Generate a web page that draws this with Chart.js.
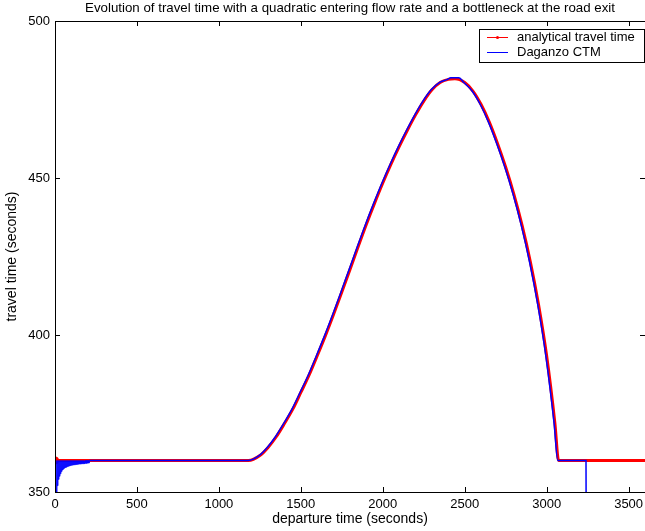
<!DOCTYPE html>
<html>
<head>
<meta charset="utf-8">
<title>Travel time evolution</title>
<script src="https://cdn.jsdelivr.net/npm/chart.js@4.4.1/dist/chart.umd.min.js"></script>
<style>
  html, body { margin: 0; padding: 0; background: #fff; overflow: hidden; }
  canvas { display: block; }
</style>
</head>
<body>
<canvas id="travelChart" width="652" height="531"></canvas>
<script>
// axis ticks
const xTickValues = [0, 500, 1000, 1500, 2000, 2500, 3000, 3500];
const yTickValues = [350, 400, 450, 500];

// analytical travel time (seconds) vs departure time (seconds)
const analyticalTime = [0, 1180, 1250, 1300, 1350, 1400, 1450, 1500, 1550, 1600, 1650, 1700, 1750, 1800, 1850, 1900, 1950, 2000, 2050, 2100, 2150, 2200, 2250, 2300, 2350, 2400, 2440, 2500, 2550, 2600, 2650, 2700, 2750, 2800, 2850, 2900, 2950, 3000, 3050, 3073, 3600];
const analyticalTravel = [360, 360, 361.6, 364.2, 367.6, 371.8, 376.3, 381.7, 387.2, 393.4, 399.8, 406.6, 413.7, 420.9, 428.2, 435.3, 442.0, 448.4, 454.4, 460.0, 465.2, 470.1, 474.5, 478.1, 480.4, 481.4, 481.6, 480.4, 477.7, 473.4, 467.8, 461.0, 453.4, 444.8, 434.9, 423.4, 409.8, 393.3, 372.0, 360, 360];

// Daganzo CTM: warm-up oscillation of the first cells
const ctmStartTime = [0, 3, 6, 9, 12, 15, 18, 21, 24, 27, 30, 33, 36, 39, 42, 45, 48, 51, 54, 57, 60, 63, 66, 69, 72, 75, 78, 81, 84, 87, 90, 93, 96, 99, 102, 105, 108, 111, 114, 117, 120, 123, 126, 129, 132, 135, 138, 141, 144, 147, 150, 153, 156, 159, 162, 165, 168, 171, 174, 177, 180, 183, 186, 189, 192, 195, 198, 201, 204, 207, 210];
const ctmStartTravel = [360, 340, 360, 349, 360, 352, 360, 354, 360, 355, 360, 355.8, 360, 356.5, 360, 357, 360, 357.3, 360, 357.6, 360, 357.8, 360, 357.9, 360, 358.1, 360, 358.2, 360, 358.3, 360, 358.4, 360, 358.5, 360, 358.55, 360, 358.6, 360, 358.65, 360, 358.7, 360, 358.75, 360, 358.8, 360, 358.85, 360, 358.9, 360, 358.9, 360, 358.95, 360, 359, 360, 359, 360, 359.05, 360, 359.1, 360, 359.1, 360, 359.15, 360, 359.2, 360, 359.2, 360];

// Daganzo CTM: rest of the simulation (ends with the exit drop)
const ctmTime = [210, 1175, 1245, 1295, 1345, 1395, 1445, 1495, 1545, 1595, 1645, 1695, 1745, 1795, 1845, 1895, 1945, 1995, 2045, 2095, 2145, 2195, 2245, 2295, 2345, 2395, 2415, 2465, 2495, 2545, 2595, 2645, 2695, 2745, 2795, 2845, 2895, 2945, 2995, 3045, 3068, 3240, 3241];
const ctmTravel = [360, 360, 361.6, 364.2, 367.6, 371.8, 376.3, 381.7, 387.2, 393.4, 399.8, 406.6, 413.7, 420.9, 428.2, 435.3, 442.0, 448.4, 454.4, 460.0, 465.2, 470.1, 474.5, 478.1, 480.4, 481.4, 481.9, 481.9, 480.4, 477.7, 473.4, 467.8, 461.0, 453.4, 444.8, 434.9, 423.4, 409.8, 393.3, 372.0, 360, 360, 340];

const titleText = 'Evolution of travel time with a quadratic entering flow rate and a bottleneck at the road exit';
const seriesNames = ['analytical travel time', 'Daganzo CTM'];
const seriesColors = ['#ff0000', '#0000ff'];

const FONT = '"Liberation Sans", Arial, Helvetica, sans-serif';

function toPoints(xs, ys) {
  return xs.map((x, i) => ({ x: x, y: ys[i] }));
}

// matlab style box: frame, inward ticks, title and boxed legend
const framePlugin = {
  id: 'frame',
  afterDraw(chart) {
    const ctx = chart.ctx;
    const a = chart.chartArea;
    const xs = chart.scales.x;
    const ys = chart.scales.y;
    const tick = 5;
    ctx.save();
    ctx.strokeStyle = '#000';
    ctx.lineWidth = 1;
    ctx.strokeRect(Math.round(a.left) + 0.5, Math.round(a.top) + 0.5, Math.round(a.right - a.left), Math.round(a.bottom - a.top));

    ctx.beginPath();
    xTickValues.forEach(v => {
      const px = Math.round(xs.getPixelForValue(v)) + 0.5;
      ctx.moveTo(px, a.bottom); ctx.lineTo(px, a.bottom - tick);
      ctx.moveTo(px, a.top); ctx.lineTo(px, a.top + tick);
    });
    yTickValues.forEach(v => {
      const py = Math.round(ys.getPixelForValue(v)) + 0.5;
      ctx.moveTo(a.left, py); ctx.lineTo(a.left + tick, py);
      ctx.moveTo(a.right, py); ctx.lineTo(a.right - tick, py);
    });
    ctx.stroke();

    // title
    ctx.fillStyle = '#000';
    ctx.font = '13.3px ' + FONT;
    ctx.textAlign = 'center';
    ctx.textBaseline = 'middle';
    ctx.fillText(titleText, (a.left + a.right) / 2, 8);

    // legend
    const lx = 479, ly = 29, lw = 165, lh = 33;
    ctx.fillStyle = '#fff';
    ctx.fillRect(lx, ly, lw, lh);
    ctx.strokeRect(lx + 0.5, ly + 0.5, lw, lh);
    ctx.font = '13px ' + FONT;
    ctx.textAlign = 'left';
    seriesNames.forEach((name, i) => {
      const rowY = ly + 8.5 + i * 15;
      ctx.strokeStyle = seriesColors[i];
      ctx.beginPath();
      ctx.moveTo(487, rowY); ctx.lineTo(508, rowY);
      ctx.stroke();
      if (i === 0) {
        ctx.fillStyle = seriesColors[i];
        ctx.beginPath();
        ctx.arc(497.5, rowY, 1.5, 0, Math.PI * 2);
        ctx.fill();
      }
      ctx.fillStyle = '#000';
      ctx.fillText(name, 517, rowY);
    });
    ctx.restore();
  }
};

new Chart(document.getElementById('travelChart'), {
  type: 'line',
  data: {
    datasets: [
      {
        label: seriesNames[1],
        data: toPoints(ctmStartTime, ctmStartTravel),
        borderColor: seriesColors[1],
        borderWidth: 1,
        tension: 0,
        pointRadius: 0,
        order: 1
      },
      {
        label: seriesNames[1],
        data: toPoints(ctmTime, ctmTravel),
        borderColor: seriesColors[1],
        borderWidth: 1.5,
        cubicInterpolationMode: 'monotone',
        pointRadius: 0,
        order: 1
      },
      {
        label: seriesNames[0],
        data: toPoints(analyticalTime, analyticalTravel),
        borderColor: seriesColors[0],
        backgroundColor: seriesColors[0],
        borderWidth: 3,
        cubicInterpolationMode: 'monotone',
        pointRadius: ctx => ctx.dataIndex === 0 ? 2.5 : 0,
        order: 2
      }
    ]
  },
  options: {
    responsive: false,
    animation: false,
    events: [],
    layout: { padding: { left: 0, top: 21, right: 2, bottom: 0 } },
    plugins: {
      legend: { display: false },
      title: { display: false },
      tooltip: { enabled: false }
    },
    scales: {
      x: {
        type: 'linear',
        min: 0,
        max: 3600,
        grid: { display: false, drawTicks: false },
        border: { display: false },
        afterBuildTicks: s => { s.ticks = xTickValues.map(v => ({ value: v })); },
        afterFit: s => { s.height = 39; },
        ticks: { color: '#000', padding: 5, maxRotation: 0, callback: v => String(v), font: { family: FONT, size: 13 } },
        title: {
          display: true,
          text: 'departure time (seconds)',
          color: '#000',
          font: { family: FONT, size: 14 },
          padding: { top: 0, bottom: 3 }
        }
      },
      y: {
        min: 350,
        max: 500,
        grid: { display: false, drawTicks: false },
        border: { display: false },
        afterBuildTicks: s => { s.ticks = yTickValues.map(v => ({ value: v })); },
        afterFit: s => { s.width = 55; },
        ticks: { color: '#000', padding: 5, callback: v => String(v), font: { family: FONT, size: 13 } },
        title: {
          display: true,
          text: 'travel time (seconds)',
          color: '#000',
          font: { family: FONT, size: 14 },
          padding: { top: 4, bottom: 0 }
        }
      }
    }
  },
  plugins: [framePlugin]
});
</script>
</body>
</html>
